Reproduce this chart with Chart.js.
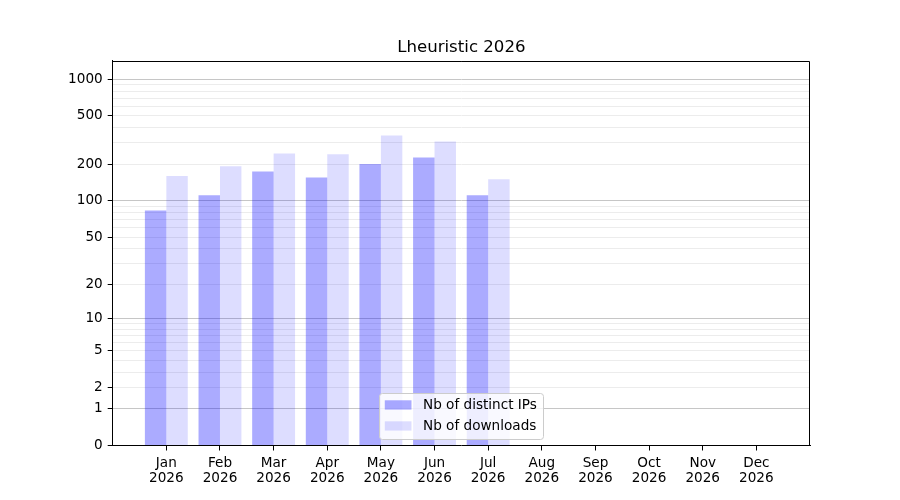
<!DOCTYPE html>
<html>
<head>
<meta charset="utf-8">
<script src="https://cdn.jsdelivr.net/npm/chart.js@4.4.1/dist/chart.umd.min.js"></script>
<style>
	body { margin: 0; background: #fff; }
	#wrap { width: 900px; height: 500px; }
</style>
</head>
<body>
<div id="wrap"><canvas id="myChart" width="900" height="500"></canvas></div>
<script>
var month_list = ['Jan', 'Feb', 'Mar', 'Apr', 'May', 'Jun', 'Jul', 'Aug', 'Sep', 'Oct', 'Nov', 'Dec'];
var year = '2026';
var ip_list = [83, 111, 175, 156, 201, 228, 111];
var dl_list = [160, 193, 246, 242, 346, 309, 151];
var y_labels = [0, 1, 2, 5, 10, 20, 50, 100, 200, 500, 1000];
var y_minor = [3, 4, 6, 7, 8, 9, 30, 40, 60, 70, 80, 90, 300, 400, 600, 700, 800, 900];
var y_major = [1, 10, 100, 1000];
var y_top = 1413;

// y axis is log10(1 + v)
function tr(v) { return Math.log10(1 + v); }
function untr(t) { return Math.round(Math.pow(10, t) - 1); }

function toPoints(list) {
	return list.map((v, i) => ({ x: i, y: tr(v) }));
}

const FONT = 'DejaVu Sans';

// top and right lines of the frame
const framePlugin = {
	id: 'frame',
	afterDatasetsDraw(chart) {
		const a = chart.chartArea, c = chart.ctx;
		const t = Math.round(a.top) + 0.5, r = Math.round(a.right) - 0.5;
		c.save();
		c.strokeStyle = '#000';
		c.lineWidth = 1;
		c.beginPath();
		c.moveTo(a.left, t);
		c.lineTo(r, t);
		c.lineTo(r, a.bottom);
		c.stroke();
		c.restore();
	}
};

// legend inside the plot, lower center
const innerLegend = {
	id: 'innerLegend',
	afterDraw(chart) {
		const a = chart.chartArea, c = chart.ctx;
		const fs = 13.6;
		const sets = chart.data.datasets;
		c.save();
		c.font = fs + 'px ' + FONT;
		let tw = 0;
		sets.forEach(d => { tw = Math.max(tw, c.measureText(d.label).width); });
		const pad = 5.3, handle = 26.7, gap = 11.5, rowH = 21;
		const w = pad * 2 + handle + gap + tw + 1;
		const h = 46;
		const x = (a.left + a.right) / 2 - w / 2;
		const y = a.bottom - 7 - h;
		c.fillStyle = 'rgba(255,255,255,0.8)';
		c.strokeStyle = '#cccccc';
		c.lineWidth = 1;
		c.beginPath();
		c.roundRect(Math.round(x) + 0.5, Math.round(y) + 0.5, Math.round(w), Math.round(h), 3);
		c.fill();
		c.stroke();
		c.textBaseline = 'middle';
		c.textAlign = 'left';
		sets.forEach((d, i) => {
			const cy = y + 12.5 + i * rowH;
			c.fillStyle = d.backgroundColor;
			c.fillRect(x + pad, cy - 4.7, handle, 9.3);
			c.fillStyle = '#000';
			c.fillText(d.label, x + pad + handle + gap, cy);
		});
		c.restore();
	}
};

const chartArea = document.getElementById('myChart').getContext('2d');
const myChart = new Chart(chartArea, {
	type: 'bar',
	data: {
		datasets: [{
			label: 'Nb of distinct IPs',
			data: toPoints(ip_list),
			backgroundColor: 'rgba(0, 0, 255, 0.33)',
			borderWidth: 0
		}, {
			label: 'Nb of downloads',
			data: toPoints(dl_list),
			backgroundColor: 'rgba(0, 0, 255, 0.133)',
			borderWidth: 0
		}]
	},
	options: {
		responsive: false,
		animation: false,
		events: [],
		categoryPercentage: 0.8,
		barPercentage: 1.0,
		layout: {
			padding: { left: 0, right: 90, top: 0, bottom: 0 }
		},
		plugins: {
			legend: { display: false },
			tooltip: { enabled: false },
			title: {
				display: true,
				fullSize: false,
				text: 'Lheuristic 2026',
				color: '#000',
				font: { family: FONT, size: 16.6, weight: 'normal' },
				padding: { top: 38, bottom: 3 }
			}
		},
		scales: {
			x: {
				type: 'linear',
				min: -1,
				max: 12,
				offset: false,
				afterBuildTicks: scale => {
					scale.ticks = month_list.map((m, i) => ({ value: i }));
				},
				afterFit: scale => { scale.height = 54.5; },
				grid: {
					offset: false,
					drawOnChartArea: false,
					drawTicks: true,
					tickLength: 5,
					tickColor: '#000'
				},
				border: { display: true, color: '#000', width: 1 },
				ticks: {
					autoSkip: false,
					maxRotation: 0,
					padding: 5,
					color: '#000',
					font: { family: FONT, size: 13.6, lineHeight: 1.12 },
					callback: v => [month_list[v], year]
				}
			},
			y: {
				type: 'linear',
				min: 0,
				max: tr(y_top),
				afterBuildTicks: scale => {
					const all = y_labels.concat(y_minor).sort((a, b) => a - b);
					scale.ticks = all.map(v => ({ value: tr(v) }));
				},
				afterFit: scale => { scale.width = 112.7; },
				grid: {
					drawTicks: true,
					tickLength: 5,
					lineWidth: 1,
					color: ctx => {
						const v = untr(ctx.tick.value);
						return y_major.includes(v) ? '#c6c6c6' : '#ececec';
					},
					tickColor: ctx => {
						const v = untr(ctx.tick.value);
						return y_labels.includes(v) ? '#000' : 'rgba(0,0,0,0)';
					}
				},
				border: { display: true, color: '#000', width: 1 },
				ticks: {
					autoSkip: false,
					padding: 5,
					color: '#000',
					font: { family: FONT, size: 13.6 },
					callback: t => {
						const v = untr(t);
						return y_labels.includes(v) ? String(v) : '';
					}
				}
			}
		}
	},
	plugins: [framePlugin, innerLegend]
});
</script>
</body>
</html>
